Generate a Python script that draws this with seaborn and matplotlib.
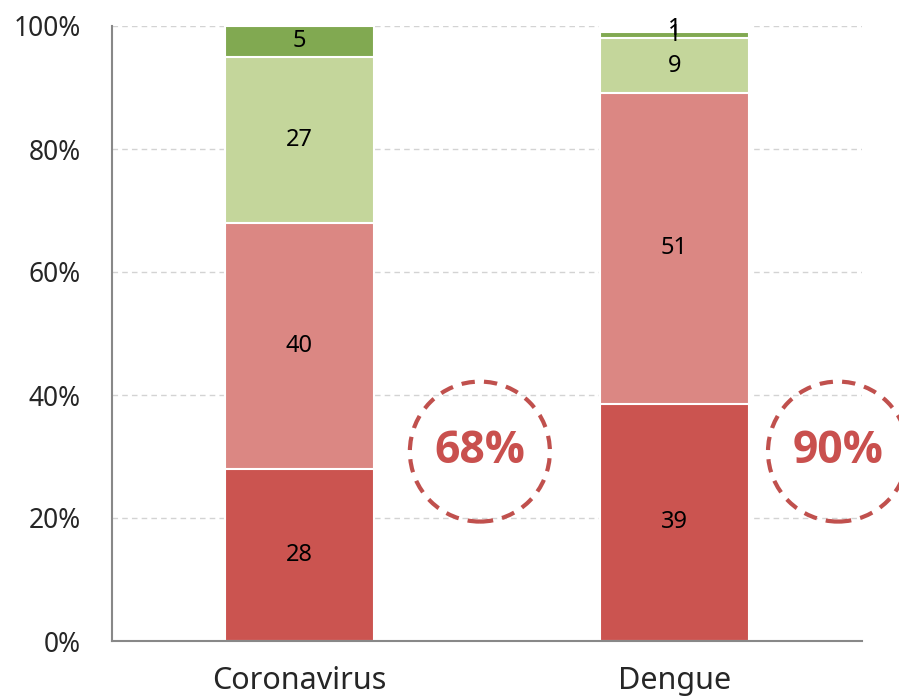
import numpy as np
import pandas as pd
import matplotlib.pyplot as plt
import seaborn as sns
from matplotlib.patches import Ellipse

# data (labels are rounded shares, Dengue sums to 101 -> normalised)
diseases = ["Coronavirus", "Dengue"]
segments = ["s1", "s2", "s3", "s4", "s5"]
coronavirus = [28, 40, 27, 5, 0]
dengue = [39, 51, 9, 1, 1]
highlight = ["68%", "90%"]

colors = ["#CB5450", "#DB8783", "#C4D69B", "#81A951", "#FFFFFF"]

df = pd.DataFrame({"Coronavirus": coronavirus, "Dengue": dengue}, index=segments)
pct = df / df.sum() * 100
cum = pct.cumsum()

sns.set_style("white")
plt.rcParams["font.family"] = ["Noto Sans", "DejaVu Sans"]

fig = plt.figure(figsize=(8.99, 6.96), dpi=100)
ax = fig.add_axes([112 / 899, 55 / 696, 750 / 899, 615 / 696])

# stacked bars: draw cumulative heights from the top segment down
for i in range(len(segments) - 1, -1, -1):
    tmp = pd.DataFrame({"disease": diseases, "val": cum.iloc[i].values})
    sns.barplot(data=tmp, x="disease", y="val", order=diseases, color=colors[i],
                width=0.395, edgecolor="white", linewidth=1.5, saturation=1,
                errorbar=None, ax=ax, zorder=2)

# segment labels
for j, d in enumerate(diseases):
    bottom = 0
    for i, s in enumerate(segments):
        v = df.loc[s, d]
        h = pct.loc[s, d]
        if v > 0:
            ax.text(j, bottom + h / 2, str(v), ha="center", va="center",
                    fontsize=17, color="black", zorder=5)
        bottom += h

# dashed circles with the combined share
circ_x = [0.481, 1.436]
for cx, t in zip(circ_x, highlight):
    e = Ellipse((cx, 30.8), width=140 / 375, height=140 / 6.15, fill=False,
                edgecolor="#C0504D", linewidth=3, linestyle=(0, (3.2, 2.2)),
                clip_on=False, zorder=6)
    ax.add_patch(e)
    ax.text(cx, 30.8, t, ha="center", va="center", fontsize=32,
            fontweight="bold", family=["Open Sans", "DejaVu Sans"],
            color="#C9504E", zorder=7)

ax.set_xlim(-0.5, 1.5)
ax.set_ylim(0, 100)
ax.set_yticks(np.arange(0, 101, 20))
ax.set_yticklabels([f"{v}%" for v in range(0, 101, 20)], fontsize=19)
ax.set_xticks([0, 1])
ax.set_xticklabels(diseases, fontsize=22)
ax.set_xticks([-0.5, 0.5, 1.5], minor=True)
ax.tick_params(axis="x", which="major", length=0, pad=18)
ax.tick_params(axis="x", which="minor", length=6.5, width=1.2, color="#888888")
ax.tick_params(axis="y", length=6.5, width=1.2, color="#888888", pad=16)
ax.set_xlabel("")
ax.set_ylabel("")

ax.yaxis.grid(True, color="#D3D3D3", linestyle=(0, (4, 3)), linewidth=1)
ax.set_axisbelow(True)
for s in ["top", "right"]:
    ax.spines[s].set_visible(False)
for s in ["left", "bottom"]:
    ax.spines[s].set_color("#888888")
    ax.spines[s].set_linewidth(1.5)

fig.savefig("out.png", dpi=100)
